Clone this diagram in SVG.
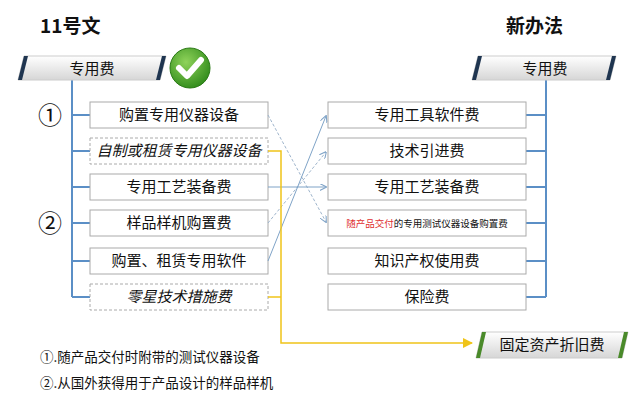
<svg xmlns="http://www.w3.org/2000/svg" width="640" height="410" viewBox="0 0 640 410">
<style>
text{font-family:"Noto Sans CJK SC","Liberation Sans",sans-serif;fill:#111}
.b{fill:#fff;stroke:#aaa;stroke-width:1}
.d{fill:#fff;stroke:#aaa;stroke-width:1;stroke-dasharray:3,2}
.t{font-size:15px;text-anchor:middle}
.it{font-size:15px;text-anchor:middle;font-style:italic}
.bus{stroke:#5b8fc6;stroke-width:2;fill:none}
</style>
<defs>
<linearGradient id="g" x1="0" y1="0" x2="0" y2="1"><stop offset="0" stop-color="#fff"/><stop offset="1" stop-color="#d6d6d6"/></linearGradient>
<radialGradient id="cg" cx="0.4" cy="0.35" r="0.7"><stop offset="0" stop-color="#8fd35a"/><stop offset="1" stop-color="#2f8a1a"/></radialGradient>
<marker id="a" viewBox="0 0 10 10" refX="9" refY="5" markerWidth="7" markerHeight="7" orient="auto"><path d="M0,0 L10,5 L0,10" fill="none" stroke="#7fa3c7" stroke-width="1.5"/></marker>
<marker id="ay" viewBox="0 0 10 10" refX="9" refY="5" markerWidth="7" markerHeight="7" orient="auto"><path d="M0,0 L10,5 L0,10 z" fill="#f0c419"/></marker>
</defs>
<rect width="640" height="410" fill="#fff"/>
<text x="40" y="33" style="font-size:19px;font-weight:bold">11号文</text>
<text x="506" y="33" style="font-size:19px;font-weight:bold">新办法</text>
<g id="bus">
<path class="bus" d="M72,80 V297 M72,115 H90 M72,151 H90 M72,187 H90 M72,223 H90 M72,261 H90 M72,297 H90"/>
<path class="bus" d="M546,80 V297 M526,115 H546 M526,151 H546 M526,187 H546 M526,223 H546 M526,261 H546 M526,297 H546"/>
</g>
<g id="h1"><path d="M24,56 H166 L160,80 H18 Z" fill="url(#g)" stroke="#ccc"/><path d="M24,56 L18,80 H22 L28,56 Z" fill="#1f3550"/><path d="M166,56 L160,80 H156 L162,56 Z" fill="#1f3550"/><text x="92" y="74" class="t">专用费</text></g>
<g id="check"><circle cx="190" cy="68" r="20" fill="url(#cg)" stroke="#2a7a15"/><path d="M179,68 L187,76 L201,60" fill="none" stroke="#fff" stroke-width="6" stroke-linecap="round" stroke-linejoin="round"/></g>
<g id="h2"><path d="M478,56 H616 L610,80 H472 Z" fill="url(#g)" stroke="#ccc"/><path d="M478,56 L472,80 H476 L482,56 Z" fill="#1f3550"/><path d="M616,56 L610,80 H606 L612,56 Z" fill="#1f3550"/><text x="545" y="74" class="t">专用费</text></g>
<g id="h3"><path d="M482,332 H628 L622,358 H476 Z" fill="url(#g)" stroke="#ccc"/><path d="M482,332 L476,358 H480 L486,332 Z" fill="#4a8a2a"/><path d="M628,332 L622,358 H618 L624,332 Z" fill="#4a8a2a"/><text x="552" y="350" class="t">固定资产折旧费</text></g>
<text x="38" y="124" style="font-size:24px">①</text>
<text x="38" y="232" style="font-size:24px">②</text>
<g id="l1"><rect class="b" x="90" y="102" width="178" height="26"/><text x="179" y="120" class="t">购置专用仪器设备</text></g>
<g id="l2"><rect class="d" x="90" y="138" width="178" height="26"/><text x="179" y="156" class="it">自制或租赁专用仪器设备</text></g>
<g id="l3"><rect class="b" x="90" y="174" width="178" height="26"/><text x="179" y="192" class="t">专用工艺装备费</text></g>
<g id="l4"><rect class="b" x="90" y="210" width="178" height="26"/><text x="179" y="228" class="t">样品样机购置费</text></g>
<g id="l5"><rect class="b" x="90" y="248" width="178" height="26"/><text x="179" y="266" class="t">购置、租赁专用软件</text></g>
<g id="l6"><rect class="d" x="90" y="284" width="178" height="26"/><text x="179" y="302" class="it">零星技术措施费</text></g>
<g id="r1"><rect class="b" x="328" y="102" width="198" height="26"/><text x="427" y="120" class="t">专用工具软件费</text></g>
<g id="r2"><rect class="b" x="328" y="138" width="198" height="26"/><text x="427" y="156" class="t">技术引进费</text></g>
<g id="r3"><rect class="b" x="328" y="174" width="198" height="26"/><text x="427" y="192" class="t">专用工艺装备费</text></g>
<g id="r4"><rect class="b" x="328" y="210" width="198" height="26"/><text x="427" y="227" style="font-size:9.5px;text-anchor:middle"><tspan fill="#e03030">随产品交付</tspan>的专用测试仪器设备购置费</text></g>
<g id="r5"><rect class="b" x="328" y="248" width="198" height="26"/><text x="427" y="266" class="t">知识产权使用费</text></g>
<g id="r6"><rect class="b" x="328" y="284" width="198" height="26"/><text x="427" y="302" class="t">保险费</text></g>
<g id="connectors" fill="none">
<path d="M268,115 L326,222" stroke="#9fb5cc" stroke-dasharray="3,2" marker-end="url(#a)"/>
<path d="M268,223 L326,152" stroke="#9fb5cc" stroke-dasharray="3,2" marker-end="url(#a)"/>
<path d="M268,187 H326" stroke="#7fa3c7" marker-end="url(#a)"/>
<path d="M268,261 L326,116" stroke="#7fa3c7" marker-end="url(#a)"/>
<path d="M268,151 H281 V343 H472" stroke="#f0c419" stroke-width="1.5" marker-end="url(#ay)"/>
<path d="M268,297 H281" stroke="#f0c419" stroke-width="1.5"/>
</g>
<text x="40" y="362" style="font-size:13.5px">①.随产品交付时附带的测试仪器设备</text>
<text x="40" y="388" style="font-size:13.5px">②.从国外获得用于产品设计的样品样机</text>
</svg>
